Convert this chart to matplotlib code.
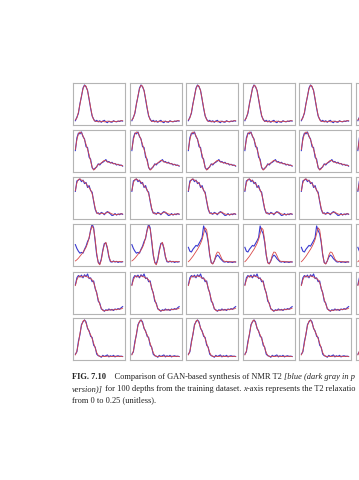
import numpy as np
import matplotlib
matplotlib.use("Agg")
import matplotlib.pyplot as plt

# one row of panels = neighbouring depths, so each row shares a shape
# blue = original NMR T2, red = GAN synthetic
red_r1 = [0.10, 0.15, 0.30, 0.50, 0.72, 0.90, 0.99, 0.97, 0.85, 0.65, 0.42, 0.22, 0.10, 0.07, 0.06, 0.07,
          0.05, 0.06, 0.07, 0.05, 0.06, 0.07, 0.06, 0.05, 0.06, 0.07, 0.06, 0.06, 0.07, 0.07, 0.08, 0.08]
blue_r1 = [0.08, 0.17, 0.27, 0.52, 0.70, 0.92, 1.00, 0.95, 0.86, 0.63, 0.40, 0.20, 0.12, 0.06, 0.09, 0.05,
           0.08, 0.04, 0.07, 0.09, 0.05, 0.03, 0.07, 0.05, 0.04, 0.08, 0.06, 0.05, 0.07, 0.06, 0.08, 0.07]

red_r2 = [0.55, 0.80, 0.95, 1.00, 0.98, 0.90, 0.80, 0.68, 0.55, 0.42, 0.25, 0.10, 0.02, 0.05, 0.12, 0.16,
          0.18, 0.20, 0.24, 0.27, 0.26, 0.23, 0.22, 0.21, 0.20, 0.19, 0.18, 0.17, 0.16, 0.15, 0.14, 0.13]
blue_r2 = [0.52, 0.85, 0.97, 0.95, 1.00, 0.88, 0.82, 0.62, 0.60, 0.35, 0.30, 0.08, 0.03, 0.07, 0.10, 0.18,
           0.15, 0.20, 0.22, 0.25, 0.29, 0.23, 0.24, 0.20, 0.22, 0.18, 0.19, 0.15, 0.17, 0.14, 0.15, 0.12]

red_r3 = [0.70, 0.90, 0.99, 1.00, 0.97, 0.95, 0.92, 0.88, 0.82, 0.78, 0.72, 0.62, 0.45, 0.25, 0.13, 0.10,
          0.11, 0.12, 0.11, 0.10, 0.12, 0.14, 0.15, 0.12, 0.10, 0.09, 0.09, 0.08, 0.09, 0.10, 0.10, 0.10]
blue_r3 = [0.68, 0.95, 0.97, 1.00, 0.93, 0.97, 0.88, 0.91, 0.78, 0.83, 0.70, 0.66, 0.42, 0.22, 0.12, 0.13,
           0.09, 0.14, 0.12, 0.08, 0.13, 0.16, 0.13, 0.10, 0.06, 0.07, 0.11, 0.07, 0.10, 0.08, 0.11, 0.09]

red_r4a = [0.10, 0.13, 0.17, 0.22, 0.27, 0.32, 0.38, 0.45, 0.55, 0.70, 0.88, 1.00, 0.92, 0.65, 0.30, 0.05,
           0.00, 0.12, 0.35, 0.52, 0.58, 0.45, 0.22, 0.10, 0.08, 0.08, 0.09, 0.08, 0.08, 0.09, 0.08, 0.08]
blue_r4a = [0.52, 0.42, 0.35, 0.30, 0.32, 0.30, 0.40, 0.48, 0.60, 0.68, 0.90, 1.05, 0.95, 0.60, 0.25, 0.07,
            0.02, 0.15, 0.38, 0.55, 0.56, 0.42, 0.20, 0.08, 0.07, 0.10, 0.07, 0.09, 0.06, 0.08, 0.07, 0.08]
red_r4b = [0.08, 0.12, 0.17, 0.22, 0.28, 0.34, 0.40, 0.47, 0.55, 0.65, 0.80, 0.95, 0.90, 0.62, 0.28, 0.05,
           0.02, 0.10, 0.25, 0.33, 0.32, 0.24, 0.15, 0.10, 0.09, 0.08, 0.09, 0.07, 0.08, 0.08, 0.07, 0.08]
blue_r4b = [0.45, 0.35, 0.33, 0.40, 0.45, 0.50, 0.48, 0.55, 0.62, 0.70, 1.00, 0.88, 0.80, 0.58, 0.25, 0.06,
            0.03, 0.10, 0.20, 0.25, 0.22, 0.16, 0.12, 0.08, 0.07, 0.09, 0.06, 0.08, 0.07, 0.06, 0.08, 0.07]

red_r5 = [0.70, 0.85, 0.93, 0.95, 0.92, 0.93, 0.95, 0.94, 0.92, 0.90, 0.88, 0.85, 0.78, 0.65, 0.50, 0.35,
          0.22, 0.12, 0.06, 0.05, 0.06, 0.07, 0.07, 0.08, 0.07, 0.08, 0.08, 0.09, 0.09, 0.10, 0.10, 0.12]
blue_r5 = [0.72, 0.90, 0.96, 0.92, 0.97, 0.90, 0.98, 0.93, 1.00, 0.88, 0.90, 0.80, 0.82, 0.62, 0.52, 0.30,
           0.25, 0.10, 0.08, 0.04, 0.08, 0.06, 0.10, 0.07, 0.09, 0.06, 0.10, 0.08, 0.11, 0.09, 0.13, 0.16]

red_r6 = [0.10, 0.20, 0.40, 0.65, 0.85, 0.97, 1.00, 0.92, 0.80, 0.70, 0.62, 0.52, 0.40, 0.28, 0.16, 0.09,
          0.06, 0.06, 0.07, 0.06, 0.06, 0.07, 0.07, 0.06, 0.06, 0.06, 0.07, 0.06, 0.06, 0.07, 0.06, 0.06]
blue_r6 = [0.12, 0.18, 0.45, 0.62, 0.88, 0.95, 1.00, 0.95, 0.78, 0.72, 0.58, 0.55, 0.35, 0.30, 0.12, 0.08,
           0.07, 0.04, 0.09, 0.06, 0.08, 0.10, 0.05, 0.08, 0.06, 0.09, 0.05, 0.07, 0.08, 0.06, 0.07, 0.06]

rows = [
    [(blue_r1, red_r1)] * 6,
    [(blue_r2, red_r2)] * 6,
    [(blue_r3, red_r3)] * 6,
    [(blue_r4a, red_r4a)] * 2 + [(blue_r4b, red_r4b)] * 4,
    [(blue_r5, red_r5)] * 6,
    [(blue_r6, red_r6)] * 6,
]

# caption is cropped at the right edge in the source page
caption = [
    [("FIG. 7.10", "normal", "bold"), ("    Comparison of GAN-based synthesis of NMR T2 ", "normal", "normal"),
     ("[blue (dark gray in p", "italic", "normal")],
    [("version)]", "italic", "normal"), (" for 100 depths from the training dataset. ", "normal", "normal"),
     ("x", "italic", "normal"), ("-axis represents the T2 relaxatio", "normal", "normal")],
    [("from 0 to 0.25 (unitless).", "normal", "normal")],
]

W, H = 359, 480
fig = plt.figure(figsize=(W / 100, H / 100), dpi=100)

col_left = [73, 129.5, 186, 242.5, 299, 355.5]
row_top = [83, 130, 177, 224, 272, 318]
pw, ph = 52, 42

for r, row in enumerate(rows):
    for c, (b, rd) in enumerate(row):
        ax = fig.add_axes([col_left[c] / W, 1 - (row_top[r] + ph) / H, pw / W, ph / H])
        t = np.linspace(0, 1, len(b))
        ax.plot(t, b, color="#3a3ad0", lw=0.8)
        ax.plot(t, rd, color="#d84848", lw=0.6)
        ax.set_xlim(-0.05, 1.05)
        ax.set_ylim(-0.03, 1.05)
        ax.set_xticks([])
        ax.set_yticks([])
        for s in ax.spines.values():
            s.set_color("#b4b4b4")
            s.set_linewidth(0.8)

renderer = fig.canvas.get_renderer()
line_y = [377, 389, 400]
for ly, runs in zip(line_y, caption):
    x = 72
    for txt, style, weight in runs:
        tt = fig.text(x / W, 1 - ly / H, txt, fontsize=6.0, family="Liberation Serif",
                      style=style, weight=weight, color="#222222", va="center", ha="left")
        bb = tt.get_window_extent(renderer=renderer)
        x += bb.width

fig.savefig("out.png", dpi=100)
